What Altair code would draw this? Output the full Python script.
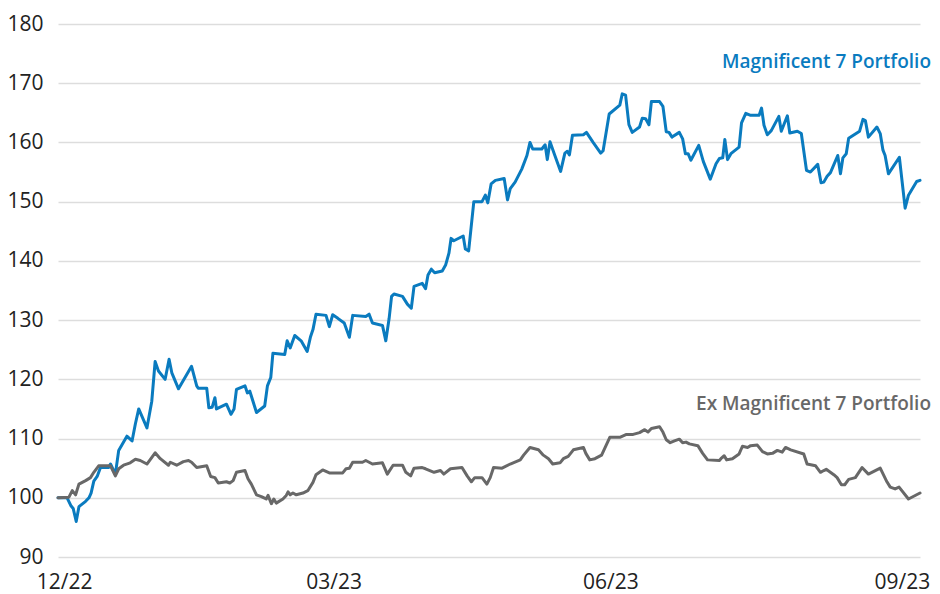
import altair as alt
import pandas as pd

# x = days since 2022-12-30, y = index value
mag7_day = [0.0, 3.0, 4.2, 5.0, 6.0, 6.9, 9.1, 10.2, 10.9, 11.8, 12.9, 14.0, 16.7, 17.3, 18.9, 20.0,
            22.7, 24.4, 25.5, 26.6, 29.3, 30.9, 32.0, 33.1, 35.3, 36.6, 37.5, 39.7, 44.0, 45.7, 46.2,
            49.0, 49.7, 50.8, 51.7, 52.2, 55.5, 57.0, 58.0, 58.8, 61.6, 62.4, 63.2, 65.4, 68.1, 69.0,
            70.1, 70.8, 74.7, 75.5, 76.5, 78.0, 80.1, 82.1, 83.2, 84.0, 85.0, 88.3, 89.4, 90.5, 92.2,
            94.3, 96.0, 97.1, 101.4, 102.5, 103.6, 106.9, 108.0, 109.1, 109.9, 110.7, 113.5, 115.1,
            116.4, 117.3, 120.0, 121.1, 121.9, 123.0, 124.1, 126.6, 127.7, 128.8, 129.5, 130.4, 133.5,
            134.2, 135.3, 137.0, 139.7, 140.8, 141.6, 142.7, 144.1, 147.0, 148.1, 149.0, 150.6, 152.8,
            154.5, 155.5, 156.4, 159.4, 160.5, 161.2, 162.1, 163.7, 165.6, 167.0, 167.8, 168.5, 169.5,
            173.1, 174.1, 176.3, 178.8, 179.6, 181.6, 185.1, 185.9, 187.0, 188.1, 189.2, 191.6, 192.5,
            193.6, 194.7, 195.5, 198.2, 199.3, 200.4, 201.3, 202.3, 204.7, 205.8, 206.7, 207.6, 208.5,
            211.1, 212.6, 214.9, 216.8, 217.9, 219.0, 219.7, 220.6, 221.7, 224.4, 225.2, 226.6, 228.0,
            231.0, 231.8, 232.6, 233.7, 235.0, 237.5, 238.3, 240.3, 241.1, 243.6, 244.9, 246.6, 247.9,
            250.3, 251.4, 252.3, 253.4, 254.5, 256.9, 257.8, 258.6, 259.7, 260.5, 264.1, 265.2, 266.0,
            267.0, 269.8, 270.9, 271.8, 272.5, 273.6, 277.2, 279.1, 280.2, 282.9, 284.0]
mag7_val = [100.0, 100.0, 98.7, 98.2, 96.0, 98.5, 99.4, 100.0, 100.8, 102.8, 103.6, 105.1, 105.1, 105.7,
            104.0, 108.0, 110.4, 109.6, 112.5, 115.0, 111.8, 116.3, 123.0, 121.4, 120.0, 123.4, 121.1,
            118.4, 122.2, 118.9, 118.5, 118.5, 115.2, 115.3, 116.9, 115.0, 115.8, 114.1, 115.0, 118.3,
            118.9, 117.7, 118.0, 114.4, 115.5, 118.9, 120.3, 124.4, 124.2, 126.5, 125.3, 127.4, 126.5,
            124.7, 127.2, 128.4, 131.0, 130.8, 128.9, 130.9, 130.3, 129.5, 127.1, 130.8, 130.6, 131.0,
            129.5, 129.1, 126.5, 130.3, 134.0, 134.4, 134.0, 132.7, 132.0, 135.7, 136.2, 135.3, 137.6,
            138.6, 138.0, 138.3, 139.3, 141.3, 143.8, 143.4, 144.2, 142.0, 141.7, 150.0, 150.0, 151.1,
            149.8, 153.0, 153.6, 153.9, 150.3, 152.2, 153.3, 155.5, 157.8, 160.0, 158.9, 158.9, 159.6,
            157.1, 160.1, 157.8, 155.1, 158.2, 158.5, 157.9, 161.2, 161.3, 161.7, 160.0, 158.2, 158.6,
            164.8, 166.3, 168.2, 168.0, 163.0, 161.7, 162.6, 164.1, 164.0, 163.0, 166.9, 166.9, 166.1,
            161.8, 161.7, 160.9, 161.7, 160.6, 158.1, 158.1, 157.0, 159.5, 156.8, 153.8, 156.4, 157.3,
            157.4, 160.5, 157.1, 158.1, 159.2, 163.3, 164.9, 164.6, 164.6, 165.8, 162.9, 161.3, 162.0,
            164.4, 161.9, 164.5, 161.6, 161.9, 161.5, 155.3, 155.0, 156.3, 153.2, 153.3, 154.3, 154.9,
            157.8, 154.7, 157.4, 158.1, 160.7, 161.9, 163.9, 163.7, 160.9, 162.6, 161.5, 158.7, 157.8,
            154.7, 157.5, 148.9, 151.1, 153.4, 153.6]

ex_day = [0.0, 3.6, 4.7, 5.8, 6.9, 9.1, 10.7, 11.8, 13.4, 17.3, 18.9, 20.0, 21.6, 23.8, 25.5, 27.1, 29.3,
          32.0, 33.7, 36.4, 37.0, 39.1, 41.3, 43.0, 44.0, 45.7, 49.0, 50.3, 51.7, 52.8, 55.5, 56.6, 57.7,
          58.8, 61.6, 62.6, 63.7, 65.4, 67.0, 68.6, 69.2, 70.3, 71.1, 71.9, 74.1, 75.2, 75.8, 76.5, 77.4,
          78.5, 80.7, 82.3, 84.0, 85.0, 87.2, 89.4, 93.8, 94.9, 96.0, 97.1, 100.3, 101.4, 103.6, 106.9,
          108.5, 110.4, 113.5, 114.6, 116.2, 117.3, 120.0, 121.1, 123.9, 126.0, 127.1, 129.3, 133.1,
          134.8, 136.2, 137.3, 139.7, 141.3, 142.4, 143.5, 146.3, 149.0, 152.3, 153.4, 155.5, 158.3,
          159.9, 161.6, 163.0, 165.4, 166.5, 168.1, 169.8, 173.1, 173.9, 175.2, 176.9, 179.1, 181.8,
          185.1, 187.3, 189.5, 191.6, 193.3, 194.4, 195.5, 198.2, 199.3, 200.4, 201.7, 203.1, 204.7,
          205.8, 206.9, 208.0, 210.8, 212.4, 214.0, 217.9, 218.4, 219.5, 220.3, 222.2, 224.4, 225.5,
          227.2, 228.2, 230.4, 232.1, 233.7, 235.4, 237.0, 238.6, 239.7, 241.4, 245.7, 246.8, 249.6,
          251.2, 252.3, 253.1, 255.6, 256.7, 258.1, 259.2, 260.5, 262.7, 264.9, 267.0, 270.9, 273.1,
          274.2, 275.8, 277.1, 280.2, 284.0]
ex_val = [100.0, 100.1, 101.2, 100.5, 102.3, 102.9, 103.4, 104.3, 105.4, 105.4, 103.7, 104.9, 105.5, 105.9,
          106.5, 106.3, 105.7, 107.6, 106.6, 105.5, 106.0, 105.5, 106.1, 106.3, 106.0, 105.1, 105.4, 103.6,
          103.4, 102.5, 102.7, 102.5, 102.9, 104.3, 104.6, 103.2, 102.3, 100.5, 100.2, 99.8, 100.4, 99.0,
          99.8, 99.1, 99.8, 100.4, 101.0, 100.5, 100.8, 100.5, 100.8, 101.2, 102.6, 103.9, 104.7, 104.2,
          104.2, 104.9, 105.0, 106.0, 106.0, 106.3, 105.7, 105.9, 104.0, 105.5, 105.5, 104.3, 103.7, 105.0,
          105.1, 104.9, 104.3, 104.6, 104.0, 104.9, 105.1, 103.7, 102.7, 103.4, 103.4, 102.3, 103.4, 105.1,
          105.0, 105.7, 106.4, 107.2, 108.5, 108.1, 107.2, 106.6, 105.7, 105.9, 106.6, 107.0, 108.1, 108.5,
          107.5, 106.4, 106.6, 107.2, 110.2, 110.2, 110.7, 110.7, 111.0, 111.5, 111.1, 111.7, 112.0, 111.1,
          109.8, 109.3, 109.6, 109.9, 109.3, 109.4, 109.1, 108.8, 107.5, 106.4, 106.3, 106.6, 107.1, 106.4,
          106.6, 107.4, 108.7, 108.5, 108.8, 108.9, 107.8, 107.4, 107.5, 108.0, 107.7, 108.5, 108.1, 107.4,
          105.7, 105.4, 104.3, 104.6, 104.8, 103.9, 103.4, 102.2, 102.2, 103.1, 103.4, 105.1, 104.0, 105.0,
          102.7, 101.8, 101.5, 101.8, 99.8, 100.8]

series_names = ["Magnificent 7 Portfolio", "Ex Magnificent 7 Portfolio"]
series_colors = ["#0a7bbf", "#686868"]
label_y = [173.5, 115.8]

tick_days = [2, 90.8, 182, 278]
tick_labels = ["12/22", "03/23", "06/23", "09/23"]
y_ticks = [90, 100, 110, 120, 130, 140, 150, 160, 170, 180]

rows = []
for d, v in zip(mag7_day, mag7_val):
    rows.append({"series": series_names[0], "day": d, "value": v})
for d, v in zip(ex_day, ex_val):
    rows.append({"series": series_names[1], "day": d, "value": v})
df = pd.DataFrame(rows)

labels_df = pd.DataFrame({"series": series_names, "day": [max(mag7_day)] * 2, "value": label_y})

label_expr = "[" + ",".join("'%s'" % t for t in tick_labels) + "][indexof([" + \
    ",".join(str(t) for t in tick_days) + "], datum.value)]"

xscale = alt.Scale(domain=[0, 284], nice=False, zero=False)
yscale = alt.Scale(domain=[90, 180], nice=False, zero=False)
color = alt.Color("series:N", scale=alt.Scale(domain=series_names, range=series_colors), legend=None)

lines = alt.Chart(df).mark_line(strokeWidth=3, strokeJoin="round", strokeCap="round").encode(
    x=alt.X("day:Q", scale=xscale, title=None,
            axis=alt.Axis(values=tick_days, labelExpr=label_expr, grid=False, domain=False, ticks=False,
                          labelFlush=False, labelFontSize=21, labelFont="Open Sans", labelColor="#222222",
                          labelPadding=14, labelOverlap=False)),
    y=alt.Y("value:Q", scale=yscale, title=None,
            axis=alt.Axis(values=y_ticks, domain=False, ticks=False, labelFontSize=21, labelFont="Open Sans",
                          labelColor="#222222", labelPadding=15, gridColor="#dddddd", gridWidth=1.5)),
    color=color,
    detail="series:N",
    order="day:Q",
)

texts = alt.Chart(labels_df).mark_text(align="right", baseline="middle", dx=11, fontSize=19,
                                        font="Open Sans", fontWeight=600).encode(
    x=alt.X("day:Q", scale=xscale),
    y=alt.Y("value:Q", scale=yscale),
    text="series:N",
    color=color,
)

chart = (lines + texts).properties(
    width=862, height=533,
    autosize=alt.AutoSizeParams(type="none"),
    padding={"left": 50, "top": 16, "right": 12, "bottom": 37},
).configure_view(stroke=None)

chart.save("out.html", embed_options={"renderer": "svg", "actions": False})
